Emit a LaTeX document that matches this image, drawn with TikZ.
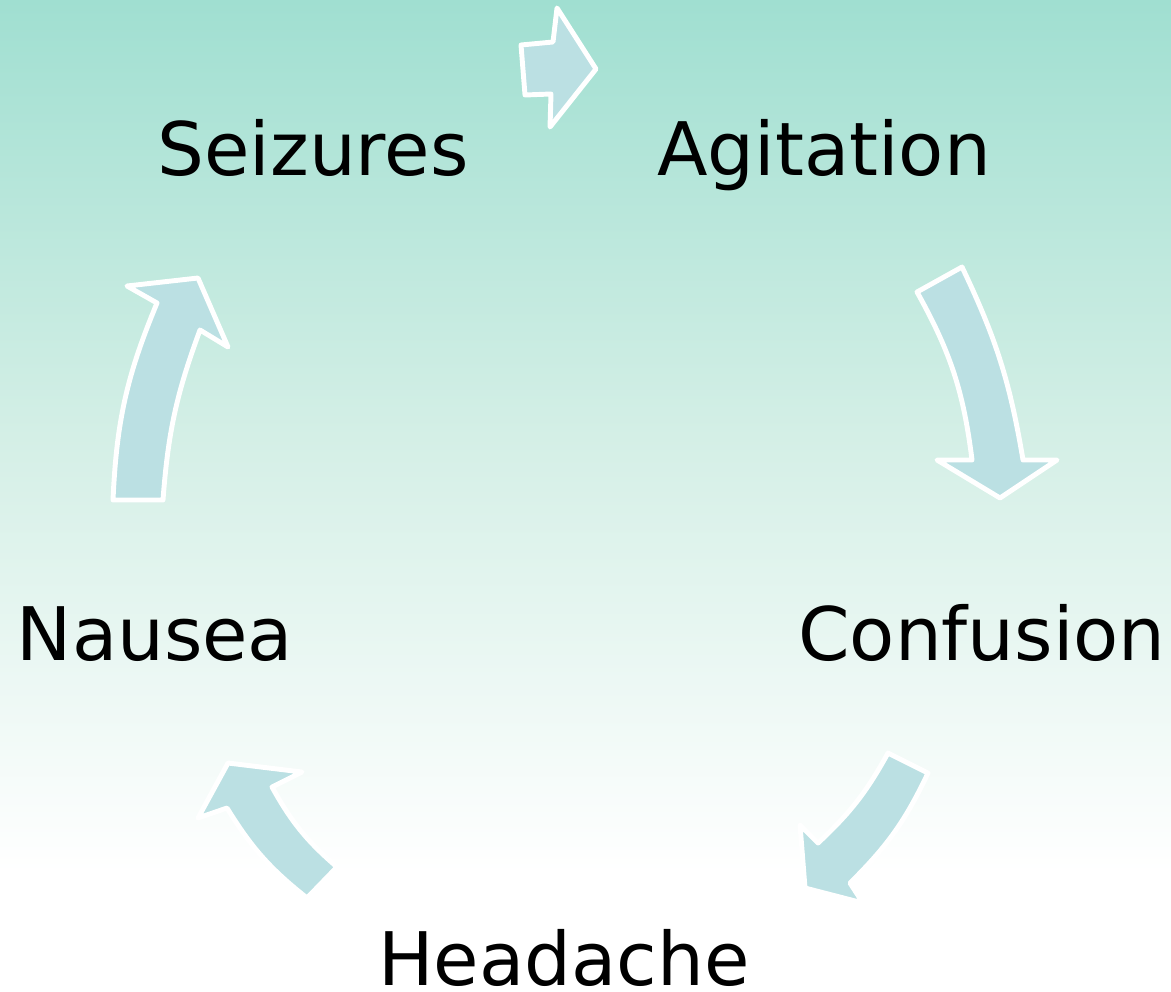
\documentclass[tikz,border=0pt]{standalone}
\usepackage{fontspec}
\setmainfont{DejaVu Sans}
\usetikzlibrary{positioning}

\definecolor{bgtop}{RGB}{160,223,209}
\definecolor{bgmid}{RGB}{212,239,230}
\definecolor{arrowfill}{RGB}{187,224,227}

\pgfdeclareverticalshading{bgshade}{100bp}{color(0bp)=(white); color(31bp)=(white); color(53bp)=(bgmid); color(75bp)=(bgtop); color(100bp)=(bgtop)}

\begin{document}
\begin{tikzpicture}[
    x = 0.01cm,
    y = -0.01cm,
    symptom/.style={anchor=base, inner sep=0pt, font=\fontsize{21}{25}\selectfont},
    cyclearrow/.style={draw=white, fill=arrowfill, line width=1.4pt, line join=round}
]
    % background
    \shade[shading=bgshade] (0,0) rectangle (1171,991);
    \useasboundingbox (0,0) rectangle (1171,991);

    % labels
    \node[symptom] (seizures) at (313,175) {Seizures};
    \node[symptom] (agitation) at (824,175) {Agitation};
    \node[symptom] (confusion) at (982,660) {Confusion};
    \node[symptom] (headache) at (564,985) {Headache};
    \node[symptom] (nausea) at (155,660) {Nausea};

    % arrows
    \draw[cyclearrow] (521,45) -- (553,42) -- (557,8) -- (596,69) -- (550,127)
        -- (551,94) -- (525,95) -- cycle;
    \draw[cyclearrow] (917,292) -- (962,267) to[bend left=8] (1023,460) -- (1057,460)
        -- (1000,498) -- (937,460) -- (972,460) to[bend right=11] (917,292) -- cycle;
    \draw[cyclearrow] (928,773) -- (888,753) to[bend left=9] (818,843) -- (800,825)
        -- (805,888) -- (863,903) -- (850,883) to[bend right=10] (928,773) -- cycle;
    \draw[cyclearrow] (337,867) -- (307,898) to[bend left=10] (227,808) -- (198,818)
        -- (228,763) -- (302,772) -- (272,787) to[bend right=10] (337,867) -- cycle;
    \draw[cyclearrow] (113,500) -- (163,500) to[bend left=8] (200,330) -- (228,347)
        -- (198,278) -- (127,286) -- (157,303) to[bend right=10] (113,500) -- cycle;
\end{tikzpicture}
\end{document}
